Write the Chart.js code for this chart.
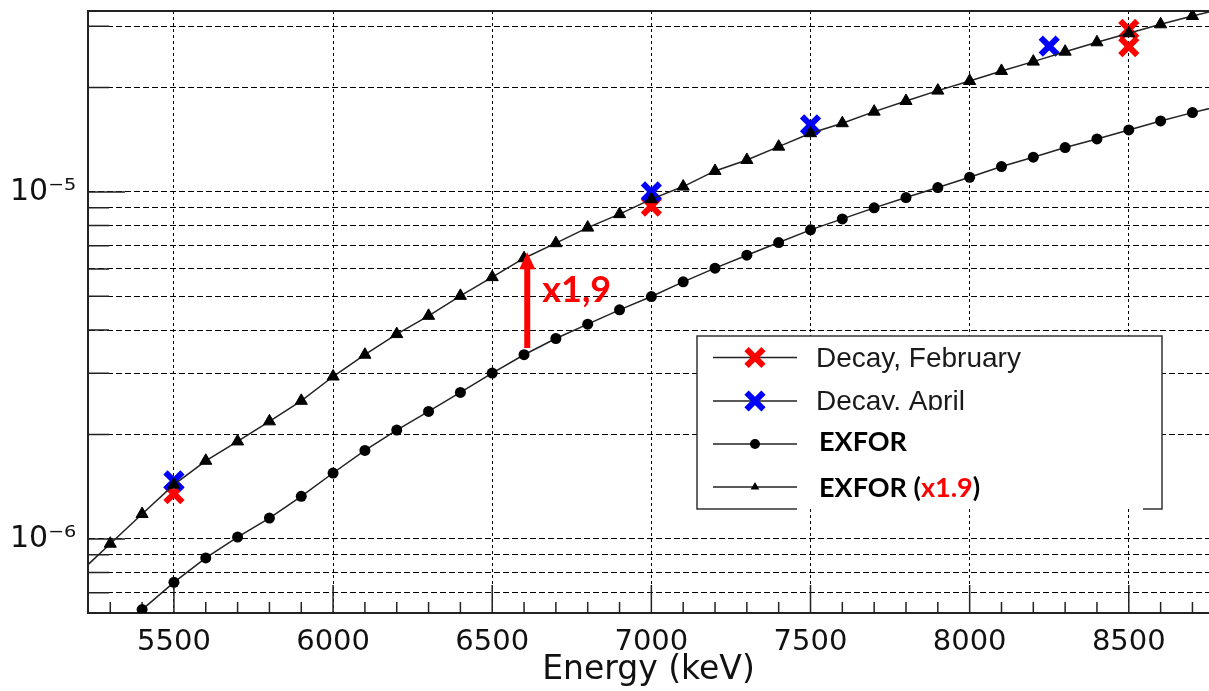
<!DOCTYPE html>
<html>
<head>
<meta charset="utf-8">
<script src="https://cdn.jsdelivr.net/npm/chart.js@4.4.1/dist/chart.umd.min.js"></script>
<style>
  html, body { margin: 0; padding: 0; background: #fff; }
  #wrap { width: 1209px; height: 691px; position: relative; }
</style>
</head>
<body>
<div id="wrap"><canvas id="xsChart"></canvas></div>
<script>
// EXFOR cross sections (circles)
const exforEnergy = [5400, 5500, 5600, 5700, 5800, 5900, 6000, 6100, 6200, 6300, 6400, 6500,
  6600, 6700, 6800, 6900, 7000, 7100, 7200, 7300, 7400, 7500, 7600, 7700, 7800, 7900,
  8000, 8100, 8200, 8300, 8400, 8500, 8600, 8700, 8800];
const exforValue = [6.26e-7, 7.50e-7, 8.82e-7, 1.013e-6, 1.149e-6, 1.327e-6, 1.549e-6, 1.799e-6,
  2.06e-6, 2.331e-6, 2.643e-6, 3.006e-6, 3.395e-6, 3.781e-6, 4.159e-6, 4.573e-6, 4.995e-6,
  5.507e-6, 6.03e-6, 6.57e-6, 7.145e-6, 7.774e-6, 8.36e-6, 8.995e-6, 9.63e-6, 1.029e-5,
  1.102e-5, 1.183e-5, 1.259e-5, 1.342e-5, 1.421e-5, 1.508e-5, 1.601e-5, 1.692e-5, 1.78e-5];

// EXFOR x1.9 (triangles)
const scaledEnergy = [5200, 5300, 5400, 5500, 5600, 5700, 5800, 5900, 6000, 6100, 6200, 6300,
  6400, 6500, 6600, 6700, 6800, 6900, 7000, 7100, 7200, 7300, 7400, 7500, 7600, 7700,
  7800, 7900, 8000, 8100, 8200, 8300, 8400, 8500, 8600, 8700, 8800];
const scaledValue = [7.95e-7, 9.69e-7, 1.18e-6, 1.434e-6, 1.68e-6, 1.91e-6, 2.182e-6, 2.501e-6,
  2.938e-6, 3.395e-6, 3.893e-6, 4.395e-6, 5.017e-6, 5.68e-6, 6.44e-6, 7.116e-6, 7.89e-6,
  8.628e-6, 9.528e-6, 1.036e-5, 1.149e-5, 1.236e-5, 1.35e-5, 1.476e-5, 1.577e-5, 1.703e-5,
  1.828e-5, 1.958e-5, 2.087e-5, 2.231e-5, 2.373e-5, 2.535e-5, 2.698e-5, 2.864e-5, 3.04e-5,
  3.212e-5, 3.38e-5];

// decay measurements
const febEnergy = [5500, 7000, 8500, 8500];
const febValue = [1.35e-6, 9.1e-6, 2.94e-5, 2.62e-5];
const aprEnergy = [5500, 7000, 7500, 8250];
const aprValue = [1.47e-6, 1.0e-5, 1.56e-5, 2.63e-5];

// axes
const xTicks = [5500, 6000, 6500, 7000, 7500, 8000, 8500];
const yGrid = [7e-7, 8e-7, 9e-7, 1e-6, 2e-6, 3e-6, 4e-6, 5e-6, 6e-6, 7e-6, 8e-6, 9e-6,
  1e-5, 2e-5, 3e-5];
const yLabels = { '-6': '10⁻⁶', '-5': '10⁻⁵' };

// x1.9 arrow
const arrowEnergy = 6610;
const arrowFrom = 3.55e-6;
const arrowTo = 6.7e-6;

const pts = (xs, ys) => xs.map((e, i) => ({ x: e, y: ys[i] }));
const isDecade = v => Math.abs(Math.log10(v) - Math.round(Math.log10(v))) < 1e-6;

function marker(ctx, style, cx, cy, r, color) {
  ctx.save();
  ctx.fillStyle = color;
  ctx.strokeStyle = color;
  ctx.beginPath();
  if (style === 'cross') {
    ctx.lineWidth = 6;
    const d = r * 0.707;
    ctx.moveTo(cx - d, cy - d); ctx.lineTo(cx + d, cy + d);
    ctx.moveTo(cx + d, cy - d); ctx.lineTo(cx - d, cy + d);
    ctx.stroke();
  } else if (style === 'circle') {
    ctx.arc(cx, cy, r, 0, Math.PI * 2);
    ctx.fill();
  } else {
    ctx.moveTo(cx, cy - r);
    ctx.lineTo(cx + r * 0.866, cy + r * 0.5);
    ctx.lineTo(cx - r * 0.866, cy + r * 0.5);
    ctx.closePath();
    ctx.fill();
  }
  ctx.restore();
}

const overlay = {
  id: 'overlay',
  beforeDatasetsDraw(chart) {
    const { ctx, chartArea: a, scales: { x, y } } = chart;
    ctx.save();
    ctx.strokeStyle = '#222';
    ctx.lineWidth = 1.5;
    ctx.beginPath();
    yGrid.forEach(v => {
      const py = y.getPixelForValue(v);
      ctx.moveTo(a.left, py);
      ctx.lineTo(a.left + (isDecade(v) ? 37 : 21), py);
    });
    for (let e = 5300; e <= 8700; e += 100) {
      const px = x.getPixelForValue(e);
      ctx.moveTo(px, a.bottom);
      ctx.lineTo(px, a.bottom - (e % 500 === 0 ? 28 : 11));
    }
    ctx.stroke();
    // frame top
    ctx.lineWidth = 2;
    ctx.beginPath();
    ctx.moveTo(a.left, a.top);
    ctx.lineTo(a.right, a.top);
    ctx.stroke();
    ctx.restore();
  },
  afterDraw(chart) {
    const { ctx, scales: { x, y } } = chart;
    // red arrow
    const px = x.getPixelForValue(arrowEnergy);
    const y0 = y.getPixelForValue(arrowFrom);
    const y1 = y.getPixelForValue(arrowTo);
    ctx.save();
    ctx.fillStyle = '#ff0000';
    ctx.fillRect(px - 3, y1 + 14, 6, y0 - y1 - 14);
    ctx.beginPath();
    ctx.moveTo(px, y1);
    ctx.lineTo(px + 8, y1 + 17);
    ctx.lineTo(px - 8, y1 + 17);
    ctx.closePath();
    ctx.fill();
    ctx.font = 'bold 36px Lato, "Open Sans", sans-serif';
    ctx.textBaseline = 'alphabetic';
    ctx.fillText('x1,9', px + 15, y0 - 46);

    // legend
    const L = 697, T = 336, R = 1162, B = 509;
    ctx.fillStyle = '#fff';
    ctx.fillRect(L, T, R - L, B - T);
    ctx.strokeStyle = '#333';
    ctx.lineWidth = 1.5;
    ctx.beginPath();
    ctx.moveTo(797, B); ctx.lineTo(L, B); ctx.lineTo(L, T); ctx.lineTo(R, T);
    ctx.lineTo(R, B); ctx.lineTo(1143, B);
    ctx.stroke();

    const rows = [
      { cy: 357.5, style: 'cross', color: '#ff0000', r: 12 },
      { cy: 401, style: 'cross', color: '#0000ff', r: 12 },
      { cy: 444, style: 'circle', color: '#000', r: 5 },
      { cy: 487, style: 'triangle', color: '#000', r: 5 }
    ];
    rows.forEach(rw => {
      ctx.strokeStyle = '#222';
      ctx.lineWidth = 1.5;
      ctx.beginPath();
      ctx.moveTo(713, rw.cy); ctx.lineTo(797, rw.cy);
      ctx.stroke();
      marker(ctx, rw.style, 755, rw.cy, rw.r, rw.color);
    });

    ctx.fillStyle = '#1a1a1a';
    ctx.font = '28px "Liberation Sans", Arial, sans-serif';
    ctx.fillText('Decay, February', 816, 367);
    ctx.save();
    ctx.beginPath();
    ctx.rect(800, 380, 300, 30);
    ctx.clip();
    ctx.fillText('Decay, April', 816, 410);
    ctx.restore();

    ctx.fillStyle = '#000';
    ctx.font = 'bold 27px Lato, "Open Sans", sans-serif';
    ctx.fillText('EXFOR', 819, 451);
    let tx = 819;
    ctx.fillText('EXFOR (', tx, 497);
    tx += ctx.measureText('EXFOR (').width;
    ctx.fillStyle = '#ff0000';
    ctx.fillText('x1.9', tx, 497);
    tx += ctx.measureText('x1.9').width;
    ctx.fillStyle = '#000';
    ctx.fillText(')', tx, 497);
    ctx.restore();
  }
};

const lineColor = '#222';

new Chart(document.getElementById('xsChart'), {
  type: 'scatter',
  data: {
    datasets: [
      {
        label: 'EXFOR (x1.9)',
        data: pts(scaledEnergy, scaledValue),
        showLine: true,
        borderColor: lineColor,
        borderWidth: 1.5,
        pointStyle: 'triangle',
        pointRadius: 7,
        pointBackgroundColor: '#000',
        pointBorderColor: '#000',
        pointBorderWidth: 1
      },
      {
        label: 'EXFOR',
        data: pts(exforEnergy, exforValue),
        showLine: true,
        borderColor: lineColor,
        borderWidth: 1.5,
        pointStyle: 'circle',
        pointRadius: 5.5,
        pointBackgroundColor: '#000',
        pointBorderColor: '#000',
        pointBorderWidth: 0
      },
      {
        label: 'Decay, April',
        data: pts(aprEnergy, aprValue),
        showLine: false,
        pointStyle: 'crossRot',
        pointRadius: 12,
        pointBorderColor: '#0000ff',
        pointBorderWidth: 6
      },
      {
        label: 'Decay, February',
        data: pts(febEnergy, febValue),
        showLine: false,
        pointStyle: 'crossRot',
        pointRadius: 12,
        pointBorderColor: '#ff0000',
        pointBorderWidth: 6
      }
    ]
  },
  options: {
    responsive: true,
    maintainAspectRatio: false,
    animation: false,
    layout: { autoPadding: false, padding: { top: 11, left: 0, right: 0, bottom: 0 } },
    plugins: {
      legend: { display: false },
      tooltip: { enabled: false }
    },
    scales: {
      x: {
        type: 'linear',
        min: 5230,
        max: 8752,
        afterBuildTicks: s => { s.ticks = xTicks.map(v => ({ value: v })); },
        afterFit: s => { s.height = 78; s.paddingLeft = 0; s.paddingRight = 0; },
        grid: { color: '#000', lineWidth: 1, drawTicks: false },
        border: { display: true, color: '#222', width: 2, dash: [3, 3] },
        ticks: {
          autoSkip: false,
          maxRotation: 0,
          padding: 12,
          color: '#111',
          font: { family: 'DejaVu Sans', size: 29 },
          callback: v => String(v)
        },
        title: {
          display: true,
          text: 'Energy (keV)',
          color: '#111',
          font: { family: 'DejaVu Sans', size: 33 },
          padding: { top: 0, bottom: 1 }
        }
      },
      y: {
        type: 'logarithmic',
        min: 6.12e-7,
        max: 3.32e-5,
        afterBuildTicks: s => { s.ticks = yGrid.map(v => ({ value: v })); },
        afterFit: s => { s.width = 88; s.paddingTop = 0; s.paddingBottom = 0; },
        grid: { color: '#000', lineWidth: 1, drawTicks: false },
        border: { display: true, color: '#222', width: 2, dash: [6, 3] },
        ticks: {
          autoSkip: false,
          padding: 12,
          color: '#111',
          font: { family: 'DejaVu Sans', size: 30 },
          callback: v => isDecade(v) ? (yLabels[String(Math.round(Math.log10(v)))] || '') : ''
        }
      }
    }
  },
  plugins: [overlay]
});
</script>
</body>
</html>
